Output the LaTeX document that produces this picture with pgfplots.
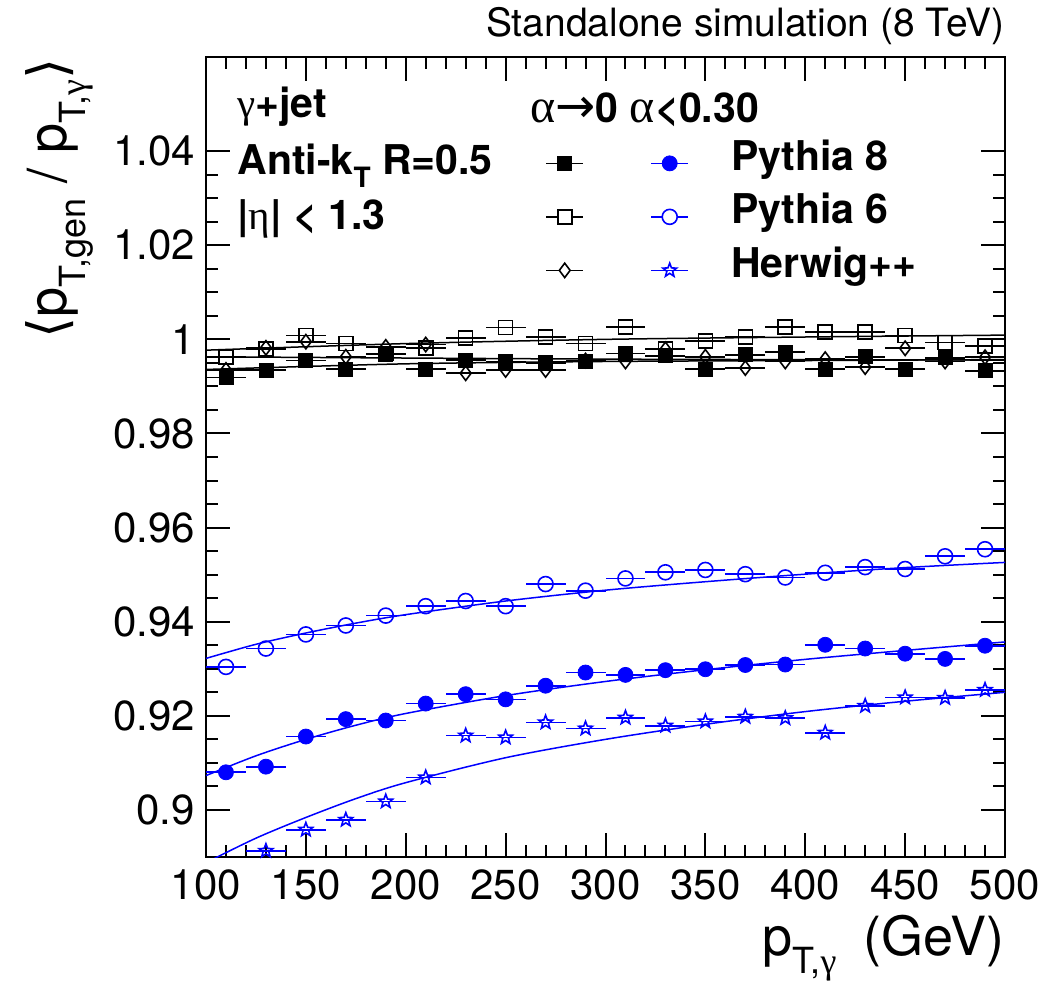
\documentclass[border=0pt]{standalone}
\usepackage{fontspec}
\setmainfont{TeX Gyre Heros}
\newfontfamily\greek{Liberation Serif}
\newfontfamily\dejavu{DejaVu Sans}
\usepackage{pgfplots}
\pgfplotsset{compat=1.18}
\usepackage{pgfplotstable}

\pgfdeclareplotmark{ostar}{%
 \pgfpathmoveto{\pgfpointpolar{90}{\pgfplotmarksize}}%
 \pgfpathlineto{\pgfpointpolar{126}{0.42\pgfplotmarksize}}%
 \pgfpathlineto{\pgfpointpolar{162}{\pgfplotmarksize}}%
 \pgfpathlineto{\pgfpointpolar{198}{0.42\pgfplotmarksize}}%
 \pgfpathlineto{\pgfpointpolar{234}{\pgfplotmarksize}}%
 \pgfpathlineto{\pgfpointpolar{270}{0.42\pgfplotmarksize}}%
 \pgfpathlineto{\pgfpointpolar{306}{\pgfplotmarksize}}%
 \pgfpathlineto{\pgfpointpolar{342}{0.42\pgfplotmarksize}}%
 \pgfpathlineto{\pgfpointpolar{18}{\pgfplotmarksize}}%
 \pgfpathlineto{\pgfpointpolar{54}{0.42\pgfplotmarksize}}%
 \pgfpathclose\pgfusepathqstroke}

% alpha < 0.30
\pgfplotstableread{
x y
110 0.9080
130 0.9092
150 0.9156
170 0.9193
190 0.9190
210 0.9226
230 0.9246
250 0.9235
270 0.9264
290 0.9292
310 0.9287
330 0.9297
350 0.9299
370 0.9308
390 0.9309
410 0.9351
430 0.9343
450 0.9332
470 0.9321
490 0.9349
}\pyeightA
\pgfplotstableread{
x y
110 0.9304
130 0.9343
150 0.9373
170 0.9392
190 0.9413
210 0.9433
230 0.9444
250 0.9433
270 0.9480
290 0.9466
310 0.9492
330 0.9505
350 0.9510
370 0.9501
390 0.9494
410 0.9504
430 0.9516
450 0.9512
470 0.9539
490 0.9554
}\pysixA
\pgfplotstableread{
x y
110 0.8840
130 0.8913
150 0.8958
170 0.8979
190 0.9018
210 0.9069
230 0.9158
250 0.9154
270 0.9186
290 0.9173
310 0.9196
330 0.9179
350 0.9188
370 0.9198
390 0.9195
410 0.9164
430 0.9221
450 0.9239
470 0.9238
490 0.9255
}\herwigA
% alpha -> 0
\pgfplotstableread{
x y
110 0.9919
130 0.9935
150 0.9955
170 0.9937
190 0.9968
210 0.9937
230 0.9956
250 0.9953
270 0.9950
290 0.9953
310 0.9970
330 0.9965
350 0.9937
370 0.9967
390 0.9973
410 0.9937
430 0.9963
450 0.9937
470 0.9961
490 0.9933
}\pyeightZ
\pgfplotstableread{
x y
110 0.9963
130 0.9979
150 1.0008
170 0.9991
190 0.9970
210 0.9982
230 1.0003
250 1.0025
270 1.0005
290 0.9991
310 1.0026
330 0.9979
350 0.9996
370 1.0005
390 1.0026
410 1.0015
430 1.0015
450 1.0008
470 0.9993
490 0.9986
}\pysixZ
\pgfplotstableread{
x y
110 0.9935
130 0.9982
150 0.9995
170 0.9963
190 0.9984
210 0.9989
230 0.9928
250 0.9935
270 0.9935
290 0.9955
310 0.9953
330 0.9979
350 0.9963
370 0.9939
390 0.9953
410 0.9958
430 0.9941
450 0.9981
470 0.9953
490 0.9962
}\herwigZ

\newcommand{\txt}{\fontsize{20.5}{24}\selectfont}

\begin{document}
\begin{tikzpicture}
\useasboundingbox (-103pt,-64.5pt) rectangle (423.5pt,428.5pt);
\begin{axis}[
  at={(0pt,0pt)}, anchor=south west,
  scale only axis, width=399.5pt, height=400pt,
  xmin=100, xmax=500, ymin=0.89, ymax=1.06,
  xtick={100,150,200,250,300,350,400,450,500},
  ytick={0.9,0.92,0.94,0.96,0.98,1,1.02,1.04},
  minor x tick num=4, minor y tick num=3,
  tick align=inside, xtick pos=both, ytick pos=both,
  major tick length=12pt, minor tick length=6pt,
  every tick/.style={black, line width=1pt},
  axis line style={line width=1.2pt},
  /pgf/number format/assume math mode=true,
  /pgf/number format/fixed,
  ticklabel style={font=\fontsize{21}{21}\selectfont},
  xticklabel style={yshift=-3pt},
  yticklabel style={xshift=-2pt},
  clip=true,
  legend style={draw=none, fill=none, at={(0.4243,0.8988)}, anchor=north west,
     font=\txt\bfseries, row sep=1.75pt, inner sep=0pt,
     nodes={inner sep=0pt, text height=16pt, text depth=9pt}},
  legend cell align=left,
  legend columns=1,
]
% fit curves alpha<0.30
\addplot[blue, line width=0.75pt, smooth, forget plot] coordinates {
(100,0.9073) (125,0.9115) (150,0.9150) (175,0.9180) (200,0.9205) (250,0.9243)
(300,0.9273) (350,0.9298) (400,0.9320) (450,0.9339) (500,0.9357)};
\addplot[blue, line width=0.75pt, smooth, forget plot] coordinates {
(100,0.9322) (125,0.9352) (150,0.9376) (175,0.9397) (200,0.9415) (250,0.9444)
(300,0.9467) (350,0.9485) (400,0.9501) (450,0.9515) (500,0.9526)};
\addplot[blue, line width=0.75pt, smooth, forget plot] coordinates {
(100,0.8888) (125,0.8940) (150,0.8984) (175,0.9024) (200,0.9058) (250,0.9111)
(300,0.9150) (350,0.9182) (400,0.9209) (450,0.9231) (500,0.9250)};
% fit curves alpha->0
\addplot[black, line width=0.75pt, smooth, forget plot] coordinates {
(100,0.9936) (200,0.9948) (300,0.9953) (400,0.9955) (500,0.9957)};
\addplot[black, line width=0.75pt, smooth, forget plot] coordinates {
(100,0.9977) (200,0.9991) (300,1.0000) (400,1.0005) (500,1.0009)};
\addplot[black, line width=0.75pt, smooth, forget plot] coordinates {
(100,0.9963) (300,0.9958) (500,0.9956)};

% data alpha->0
\addplot[black, only marks, mark=square*, mark size=3.5pt, forget plot,
  error bars/.cd, x dir=both, x fixed=10, error mark=none,
  error bar style={line width=0.85pt}] table[x=x,y=y] {\pyeightZ};
\addplot[black, only marks, mark=square, mark size=3.5pt, mark options={line width=0.8pt}, forget plot,
  error bars/.cd, x dir=both, x fixed=10, error mark=none,
  error bar style={line width=0.85pt}] table[x=x,y=y] {\pysixZ};
\addplot[black, only marks, mark=diamond, mark size=3.6pt, mark options={line width=0.8pt}, forget plot,
  error bars/.cd, x dir=both, x fixed=10, error mark=none,
  error bar style={line width=0.85pt}] table[x=x,y=y] {\herwigZ};
% data alpha<0.30
\addplot[blue, only marks, mark=*, mark size=3.75pt, forget plot,
  error bars/.cd, x dir=both, x fixed=10, error mark=none,
  error bar style={line width=0.85pt}] table[x=x,y=y] {\pyeightA};
\addplot[blue, only marks, mark=o, mark size=3.75pt, mark options={line width=0.8pt}, forget plot,
  error bars/.cd, x dir=both, x fixed=10, error mark=none,
  error bar style={line width=0.85pt}] table[x=x,y=y] {\pysixA};
\addplot[blue, only marks, mark=ostar, mark size=3.6pt, mark options={line width=0.8pt}, forget plot,
  error bars/.cd, x dir=both, x fixed=10, error mark=none,
  error bar style={line width=0.85pt}] table[x=x,y=y] {\herwigA};

% legend
\addlegendimage{legend image code/.code={
  \draw[black, line width=0.8pt] (0pt,0pt) -- (18.5pt,0pt);
  \draw[black, fill=black] plot[mark=square*, mark size=3.5pt] coordinates {(9.25pt,0pt)};
  \draw[blue, line width=0.8pt] (52.5pt,0pt) -- (71pt,0pt);
  \draw[blue, fill=blue] plot[mark=*, mark size=3.75pt] coordinates {(61.75pt,0pt)};
  \path[draw=none, fill=none] (0pt,0pt) -- (92.5pt,0pt);
}}
\addlegendentry{Pythia 8}
\addlegendimage{legend image code/.code={
  \draw[black, line width=0.8pt] (0pt,0pt) -- (18.5pt,0pt);
  \draw[black, fill=white, line width=0.8pt] plot[mark=square*, mark size=3.5pt] coordinates {(9.25pt,0pt)};
  \draw[blue, line width=0.8pt] (52.5pt,0pt) -- (71pt,0pt);
  \draw[blue, fill=white, line width=0.8pt] plot[mark=*, mark size=3.75pt] coordinates {(61.75pt,0pt)};
  \path[draw=none, fill=none] (0pt,0pt) -- (92.5pt,0pt);
}}
\addlegendentry{Pythia 6}
\addlegendimage{legend image code/.code={
  \draw[black, line width=0.8pt] (0pt,0pt) -- (18.5pt,0pt);
  \draw[black, fill=white, line width=0.8pt] plot[mark=diamond*, mark size=3.6pt] coordinates {(9.25pt,0pt)};
  \draw[blue, line width=0.8pt] (52.5pt,0pt) -- (71pt,0pt);
  \draw[blue, fill=white, line width=0.8pt] plot[mark=ostar, mark size=3.6pt] coordinates {(61.75pt,0pt)};
  \path[draw=none, fill=none] (0pt,0pt) -- (92.5pt,0pt);
}}
\addlegendentry{Herwig++}
\end{axis}

% texts
\node[anchor=base east, inner sep=0pt] at (399.5pt,410pt) {\fontsize{19.5}{19.5}\selectfont Standalone simulation (8 TeV)};
\node[anchor=base west, inner sep=0pt] at (15.5pt,369.5pt) {\txt{\greek γ}\textbf{+jet}};
\node[anchor=base west, inner sep=0pt] at (15.5pt,341pt) {\txt\bfseries Anti-k\raisebox{-0.3em}{\fontsize{14}{14}\selectfont T} R=0.5};
\node[anchor=base west, inner sep=0pt] at (15.5pt,313.5pt) {\txt\bfseries |{\greek\mdseries η}| {<} 1.3};
\node[anchor=base west, inner sep=0pt] at (162pt,367pt) {\txt{\fontsize{24}{24}\selectfont\greek α\dejavu →}\textbf{0} {\fontsize{24}{24}\selectfont\greek α}\textbf{<0.30}};
\node[anchor=base east, inner sep=0pt] at (399.5pt,-49pt) {\fontsize{27}{27}\selectfont p\raisebox{-0.35em}{\fontsize{18}{18}\selectfont T,{\greek γ}}\hspace{0.5em}(GeV)};
\node[rotate=90, anchor=base east, inner sep=0pt] at (-69.5pt,399.5pt) {\fontsize{27}{27}\selectfont{\dejavu ⟨}p\raisebox{-0.35em}{\fontsize{18}{18}\selectfont T,gen}\ / p\raisebox{-0.35em}{\fontsize{18}{18}\selectfont T,{\greek γ}}{\dejavu ⟩}};
\end{tikzpicture}
\end{document}
